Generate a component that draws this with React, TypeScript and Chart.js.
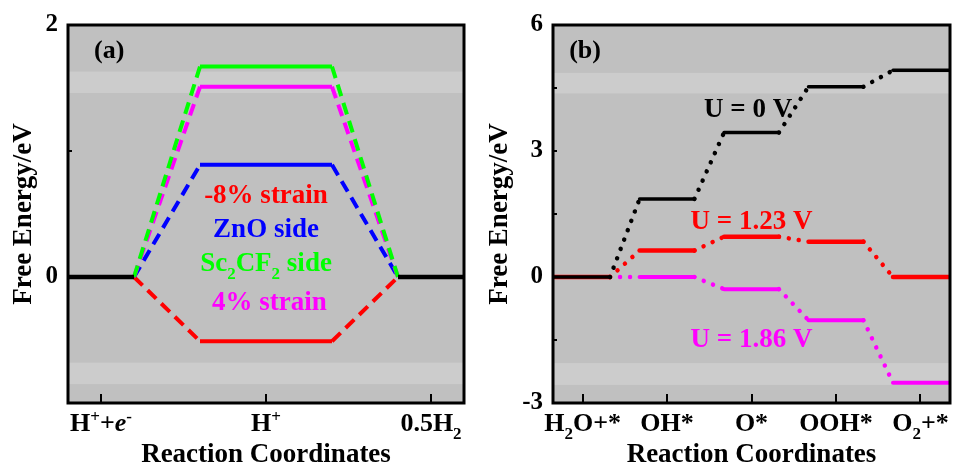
import React, { useEffect, useRef } from 'react';
import { Chart, registerables } from 'chart.js';

Chart.register(...registerables);

const FONT = '"Liberation Serif", "Times New Roman", Times, serif';

type Seg = { t: string; s?: 'sup' | 'sub'; it?: boolean };

// ---------------- Panel (a): HER ----------------
const herStates = [0, 1, 2];
const herTickLabels: Seg[][] = [
  [{ t: 'H' }, { t: '+', s: 'sup' }, { t: '+' }, { t: 'e', it: true }, { t: '-', s: 'sup' }],
  [{ t: 'H' }, { t: '+', s: 'sup' }],
  [{ t: '0.5H' }, { t: '2', s: 'sub' }],
];
const herHalfWidths = [0.2, 0.4, 0.2];
const herBlack = [0, null, 0];
const strainMinus8 = [0, -0.51, 0];
const znoSide = [0, 0.89, 0];
const sc2cf2Side = [0, 1.67, 0];
const strainPlus4 = [0, 1.51, 0];
const herBands = [[1.46, 1.63], [-0.85, -0.68]];

// ---------------- Panel (b): OER ----------------
const oerStates = [0, 1, 2, 3, 4];
const oerTickLabels: Seg[][] = [
  [{ t: 'H' }, { t: '2', s: 'sub' }, { t: 'O+*' }],
  [{ t: 'OH*' }],
  [{ t: 'O*' }],
  [{ t: 'OOH*' }],
  [{ t: 'O' }, { t: '2', s: 'sub' }, { t: '+*' }],
];
const oerHalfWidths = [0.325, 0.325, 0.325, 0.325, 0.325];
const u0V = [0, 1.86, 3.44, 4.53, 4.92];
const u123V = [0, 0.63, 0.96, 0.84, 0];
const u186V = [0, 0, -0.29, -1.03, -2.52];
const oerBands = [[4.37, 4.86], [-2.57, -2.05]];

const RED = '#ff0000';
const BLUE = '#0000ff';
const GREEN = '#00ff00';
const MAGENTA = '#ff00ff';
const BLACK = '#000000';

type Note = { segs: Seg[]; x: number; y: number; color: string; size: number };

const herNotes: Note[] = [
  { segs: [{ t: '(a)' }], x: 0.05, y: 1.735, color: BLACK, size: 26 },
  { segs: [{ t: '-8% strain' }], x: 1, y: 0.59, color: RED, size: 27 },
  { segs: [{ t: 'ZnO side' }], x: 1, y: 0.32, color: BLUE, size: 27 },
  { segs: [{ t: 'Sc' }, { t: '2', s: 'sub' }, { t: 'CF' }, { t: '2', s: 'sub' }, { t: ' side' }], x: 1, y: 0.05, color: GREEN, size: 27 },
  { segs: [{ t: '4% strain' }], x: 1.02, y: -0.26, color: MAGENTA, size: 27 },
];

const oerNotes: Note[] = [
  { segs: [{ t: '(b)' }], x: 0.03, y: 5.22, color: BLACK, size: 26 },
  { segs: [{ t: 'U = 0 V' }], x: 1.96, y: 3.81, color: BLACK, size: 27 },
  { segs: [{ t: 'U = 1.23 V' }], x: 2.0, y: 1.14, color: RED, size: 27 },
  { segs: [{ t: 'U = 1.86 V' }], x: 2.0, y: -1.67, color: MAGENTA, size: 27 },
];

function drawRich(ctx: CanvasRenderingContext2D, segs: Seg[], x: number, y: number, size: number, color: string) {
  const fontFor = (s: Seg) => `${s.it ? 'italic ' : ''}bold ${s.s ? Math.round(size * 0.64) : size}px ${FONT}`;
  const widths = segs.map((s) => {
    ctx.font = fontFor(s);
    return ctx.measureText(s.t).width;
  });
  const total = widths.reduce((a, b) => a + b, 0);
  let cx = x - total / 2;
  ctx.fillStyle = color;
  ctx.textAlign = 'left';
  ctx.textBaseline = 'alphabetic';
  segs.forEach((s, i) => {
    ctx.font = fontFor(s);
    const dy = s.s === 'sup' ? -size * 0.36 : s.s === 'sub' ? size * 0.3 : 0;
    ctx.fillText(s.t, cx, y + dy);
    cx += widths[i];
  });
}

function levelPath(values: (number | null)[], states: number[], half: number[], xMin: number, xMax: number) {
  const pts: { x: number; y: number | null }[] = [];
  values.forEach((v, i) => {
    const l = i === 0 ? xMin : states[i] - half[i];
    const r = i === values.length - 1 ? xMax : states[i] + half[i];
    pts.push({ x: l, y: v }, { x: r, y: v });
  });
  return pts;
}

type Style = { levelWidth: number; levelCap: CanvasLineCap; linkWidth: number; linkCap: CanvasLineCap; dash: number[] };

function series(values: (number | null)[], states: number[], half: number[], xMin: number, xMax: number, color: string, st: Style) {
  return {
    data: levelPath(values, states, half, xMin, xMax),
    showLine: true,
    spanGaps: false,
    borderColor: color,
    backgroundColor: color,
    borderWidth: st.levelWidth,
    borderCapStyle: st.levelCap,
    borderDash: [],
    pointRadius: 0,
    pointHoverRadius: 0,
    segment: {
      borderDash: (c: any) => (c.p0DataIndex % 2 === 1 ? st.dash : undefined),
      borderWidth: (c: any) => (c.p0DataIndex % 2 === 1 ? st.linkWidth : undefined),
      borderCapStyle: (c: any) => (c.p0DataIndex % 2 === 1 ? st.linkCap : undefined),
    },
  };
}

type Cfg = {
  xMin: number; xMax: number; yMin: number; yMax: number; yStep: number; labelEvery: number;
  yAxisWidth: number; padRight: number; states: number[]; tickLabels: Seg[][];
  bands: number[][]; notes: Note[]; datasets: any[];
};

function makeChart(canvas: HTMLCanvasElement, cfg: Cfg) {
  const decor = {
    id: 'decor',
    beforeDatasetsDraw(chart: any) {
      const { ctx, chartArea: a } = chart;
      const y = chart.scales.y;
      ctx.save();
      ctx.fillStyle = '#c0c0c0';
      ctx.fillRect(a.left, a.top, a.right - a.left, a.bottom - a.top);
      ctx.fillStyle = '#cccccc';
      cfg.bands.forEach(([lo, hi]) => {
        const y1 = y.getPixelForValue(hi);
        const y2 = y.getPixelForValue(lo);
        ctx.fillRect(a.left, y1, a.right - a.left, y2 - y1);
      });
      ctx.restore();
    },
    afterDatasetsDraw(chart: any) {
      const { ctx } = chart;
      const { x, y } = chart.scales;
      ctx.save();
      cfg.notes.forEach((n) => drawRich(ctx, n.segs, x.getPixelForValue(n.x), y.getPixelForValue(n.y), n.size, n.color));
      ctx.restore();
    },
    afterDraw(chart: any) {
      const { ctx, chartArea: a } = chart;
      const { x, y } = chart.scales;
      ctx.save();
      ctx.strokeStyle = '#000';
      ctx.lineWidth = 2;
      x.ticks.forEach((t: any) => {
        const px = Math.round(x.getPixelForValue(t.value));
        ctx.beginPath();
        ctx.moveTo(px, a.bottom);
        ctx.lineTo(px, a.bottom - 9);
        ctx.stroke();
      });
      y.ticks.forEach((t: any) => {
        const py = Math.round(y.getPixelForValue(t.value));
        ctx.beginPath();
        ctx.moveTo(a.left, py);
        ctx.lineTo(a.left + 4, py);
        ctx.stroke();
      });
      ctx.lineWidth = 3;
      ctx.strokeRect(a.left, a.top, a.right - a.left, a.bottom - a.top);
      cfg.states.forEach((s, i) => {
        drawRich(ctx, cfg.tickLabels[i], x.getPixelForValue(s), 431, 26, '#000');
      });
      ctx.restore();
    },
  };

  return new Chart(canvas, {
    type: 'scatter',
    data: { datasets: cfg.datasets },
    options: {
      animation: false,
      responsive: false,
      maintainAspectRatio: false,
      devicePixelRatio: 1,
      events: [],
      layout: { padding: { top: 23, right: cfg.padRight, left: 0, bottom: 0 } },
      plugins: { legend: { display: false }, tooltip: { enabled: false } },
      elements: { point: { radius: 0, hoverRadius: 0 } },
      scales: {
        x: {
          type: 'linear',
          min: cfg.xMin,
          max: cfg.xMax,
          grid: { display: false, drawTicks: false },
          border: { display: false },
          ticks: { display: false },
          afterBuildTicks: (s: any) => {
            s.ticks = cfg.states.map((v) => ({ value: v }));
          },
          afterFit: (s: any) => {
            s.height = 63;
          },
          title: {
            display: true,
            text: 'Reaction Coordinates',
            color: '#000',
            font: { family: FONT, size: 27, weight: 'bold', lineHeight: 0.8 },
            padding: 0,
          },
        },
        y: {
          type: 'linear',
          min: cfg.yMin,
          max: cfg.yMax,
          grid: { display: false, drawTicks: false },
          border: { display: false },
          ticks: {
            stepSize: cfg.yStep,
            autoSkip: false,
            color: '#000',
            padding: 10,
            font: { family: FONT, size: 25, weight: 'bold' },
            callback: (v: any) => (Math.abs(Number(v) % cfg.labelEvery) < 1e-6 ? String(Math.round(Number(v))) : ''),
          },
          afterFit: (s: any) => {
            s.width = cfg.yAxisWidth;
          },
          title: {
            display: true,
            text: 'Free Energy/eV',
            color: '#000',
            font: { family: FONT, size: 27, weight: 'bold', lineHeight: 1.2 },
            padding: { top: 8, bottom: 0 },
          },
        },
      },
    } as any,
    plugins: [decor],
  });
}

const herStyle: Style = { levelWidth: 4, levelCap: 'butt', linkWidth: 4, linkCap: 'butt', dash: [12, 7] };
const herBlackStyle: Style = { levelWidth: 4.5, levelCap: 'butt', linkWidth: 4, linkCap: 'butt', dash: [12, 7] };
const dotStyle = (w: number): Style => ({ levelWidth: w, levelCap: 'round', linkWidth: 4.5, linkCap: 'round', dash: [0.01, 10] });

export default function App() {
  const refA = useRef<HTMLCanvasElement>(null);
  const refB = useRef<HTMLCanvasElement>(null);

  useEffect(() => {
    const aMin = -0.2, aMax = 2.2;
    const bMin = -0.35, bMax = 4.35;
    const chartA = makeChart(refA.current!, {
      xMin: aMin, xMax: aMax, yMin: -1, yMax: 2, yStep: 1, labelEvery: 2,
      yAxisWidth: 68, padRight: 12, states: herStates, tickLabels: herTickLabels,
      bands: herBands, notes: herNotes,
      datasets: [
        series(herBlack, herStates, herHalfWidths, aMin, aMax, BLACK, herBlackStyle),
        series(sc2cf2Side, herStates, herHalfWidths, aMin, aMax, GREEN, herStyle),
        series(strainPlus4, herStates, herHalfWidths, aMin, aMax, MAGENTA, herStyle),
        series(znoSide, herStates, herHalfWidths, aMin, aMax, BLUE, herStyle),
        series(strainMinus8, herStates, herHalfWidths, aMin, aMax, RED, herStyle),
      ],
    });
    const chartB = makeChart(refB.current!, {
      xMin: bMin, xMax: bMax, yMin: -3, yMax: 6, yStep: 1.5, labelEvery: 3,
      yAxisWidth: 77, padRight: 3, states: oerStates, tickLabels: oerTickLabels,
      bands: oerBands, notes: oerNotes,
      datasets: [
        series(u0V, oerStates, oerHalfWidths, bMin, bMax, BLACK, dotStyle(3.5)),
        series(u123V, oerStates, oerHalfWidths, bMin, bMax, RED, dotStyle(4.5)),
        series(u186V, oerStates, oerHalfWidths, bMin, bMax, MAGENTA, dotStyle(4)),
      ],
    });
    return () => {
      chartA.destroy();
      chartB.destroy();
    };
  }, []);

  return (
    <div style={{ position: 'fixed', left: 0, top: 0, width: 953, height: 466, background: '#fff', display: 'flex' }}>
      <canvas ref={refA} width={476} height={466} style={{ display: 'block', width: 476, height: 466 }} />
      <canvas ref={refB} width={477} height={466} style={{ display: 'block', width: 477, height: 466 }} />
    </div>
  );
}
